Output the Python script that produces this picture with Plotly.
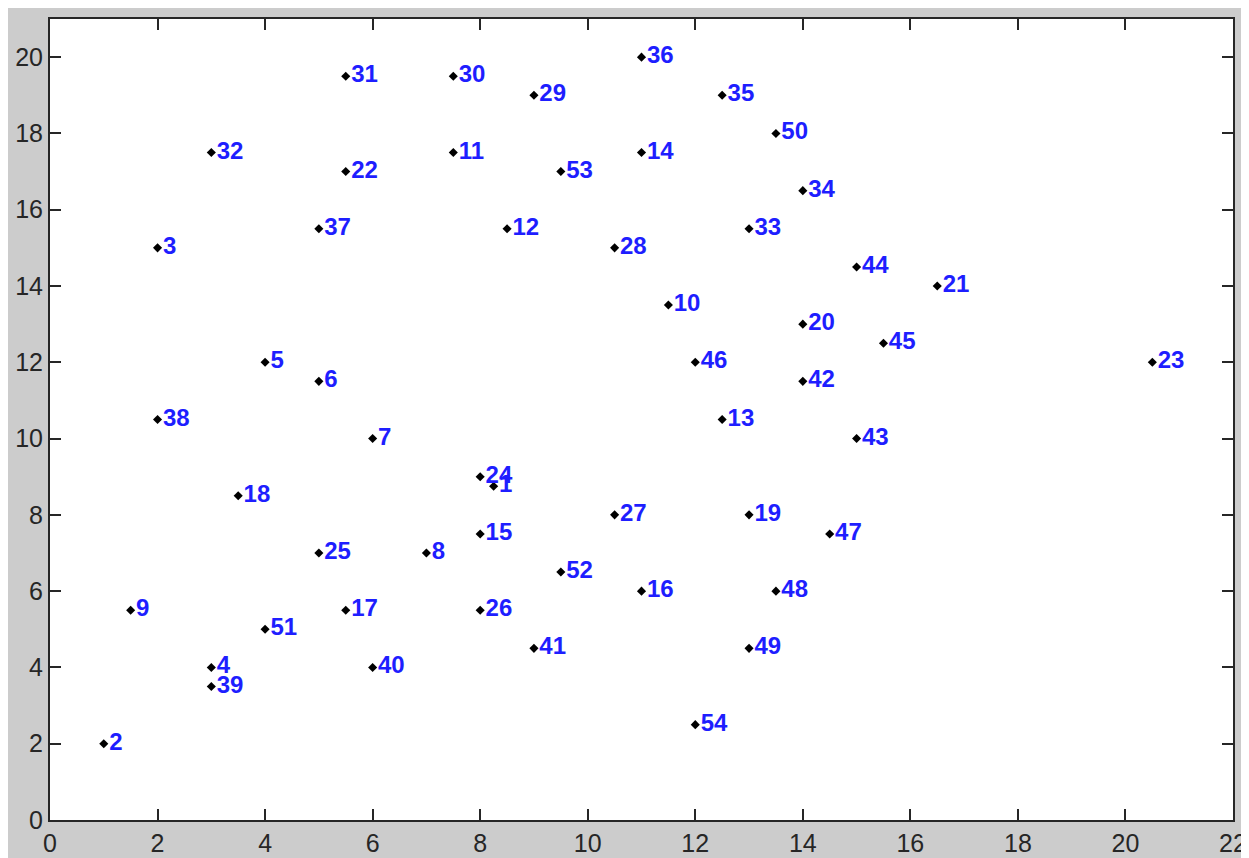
import plotly.graph_objects as go

labels = [str(i) for i in range(1, 55)]
x_vals = [8.25, 1, 2, 3, 4, 5, 6, 7, 1.5, 11.5,
          7.5, 8.5, 12.5, 11, 8, 11, 5.5, 3.5, 13, 14,
          16.5, 5.5, 20.5, 8, 5, 8, 10.5, 10.5, 9, 7.5,
          5.5, 3, 13, 14, 12.5, 11, 5, 2, 3, 6,
          9, 14, 15, 15, 15.5, 12, 14.5, 13.5, 13, 13.5,
          4, 9.5, 9.5, 12]
y_vals = [8.75, 2, 15, 4, 12, 11.5, 10, 7, 5.5, 13.5,
          17.5, 15.5, 10.5, 17.5, 7.5, 6, 5.5, 8.5, 8, 13,
          14, 17, 12, 9, 7, 5.5, 8, 15, 19, 19.5,
          19.5, 17.5, 15.5, 16.5, 19, 20, 15.5, 10.5, 3.5, 4,
          4.5, 11.5, 10, 14.5, 12.5, 12, 7.5, 6, 4.5, 18,
          5, 6.5, 17, 2.5]
x_ticks = list(range(0, 23, 2))
y_ticks = list(range(0, 21, 2))

fig = go.Figure()
fig.add_trace(go.Scatter(
    x=x_vals, y=y_vals, text=labels,
    mode="markers+text",
    textposition="middle right",
    marker=dict(symbol="diamond", size=7, color="black"),
    textfont=dict(family="Liberation Sans, Arial, sans-serif", size=24,
                  color="rgb(30,30,255)", weight="bold"),
    cliponaxis=False,
    hoverinfo="skip",
))

axis_common = dict(
    showgrid=False, zeroline=False,
    showline=True, linecolor="#262626", linewidth=2, mirror="ticks",
    ticks="inside", ticklen=11, tickwidth=2, tickcolor="#262626",
    tickfont=dict(family="Liberation Sans, Arial, sans-serif", size=25, color="#262626"),
)
fig.update_xaxes(range=[0, 22], tickvals=x_ticks, **axis_common)
fig.update_yaxes(range=[0, 21], tickvals=y_ticks, **axis_common)

fig.update_layout(
    width=1249, height=858,
    margin=dict(l=42, r=24, t=11, b=46, autoexpand=False),
    paper_bgcolor="#cccccc",
    plot_bgcolor="white",
    showlegend=False,
)
fig.write_html("out.html")
